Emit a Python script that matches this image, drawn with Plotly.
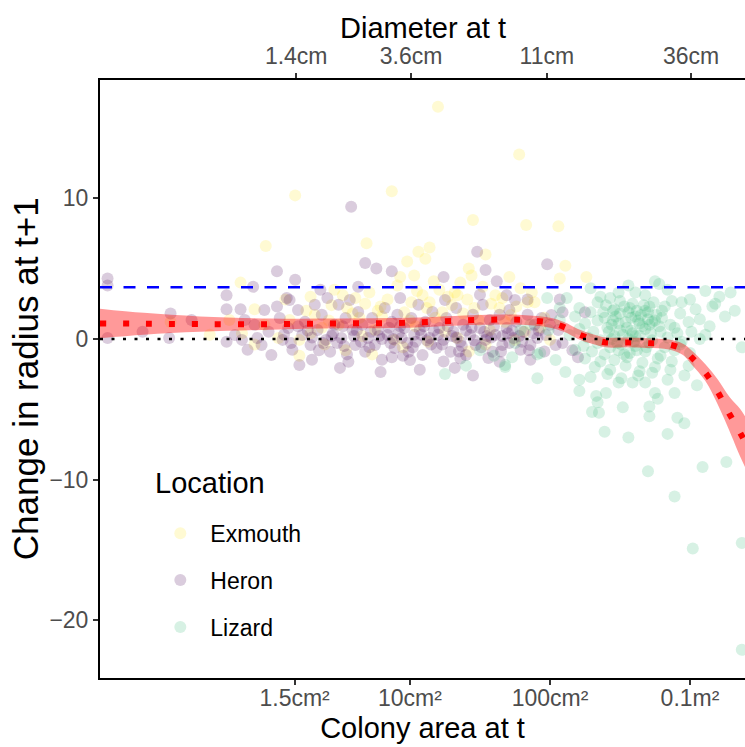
import plotly.graph_objects as go

# ---------------- data (x = log10 colony area in cm², y = change in radius) ----------------
exmouth_points = [
    (1.20, 16.5), (1.78, 13.1), (0.87, 10.5), (0.18, 10.2), (1.45, 8.45), (1.83, 8.1),
    (2.06, 8.0), (-0.03, 6.6), (0.69, 6.8), (1.14, 6.5), (1.06, 6.2), (1.54, 6.0),
    (0.98, 5.5), (1.11, 5.7), (1.42, 5.0), (2.11, 5.2), (2.07, 4.3), (2.26, 4.4),
    (1.71, 4.4), (1.03, 4.5), (0.93, 4.4), (1.36, 4.0), (1.44, 4.5), (-0.21, 4.0),
    (1.34, 3.1), (1.79, 3.6), (1.84, 2.6), (1.89, 2.6), (1.14, 2.6), (1.64, 2.2),
    (1.38, 1.8), (1.93, 0.8), (0.29, 3.0), (0.44, 2.4), (0.55, 2.2), (0.71, 3.3),
    (0.79, 2.3), (0.59, 1.8), (0.29, 0.4), (0.54, -0.8), (-0.11, 2.1), (-0.71, 1.2),
    (-0.43, 0.3), (-0.11, -0.4), (-0.20, 0.4), (0.14, 1.35), (0.21, -0.07), (0.32, 1.7),
    (0.39, -0.4), (0.49, 1.0), (0.64, 1.5), (0.75, 0.64), (0.84, 2.8), (0.89, -0.07),
    (0.96, 1.9), (1.04, 0.9), (1.09, 3.1), (1.18, 1.5), (1.25, 0.5), (1.30, 2.4),
    (1.49, 1.35), (1.57, 0.64), (1.68, 1.2), (1.75, -0.07), (0.73, -1.1), (0.11, 2.8),
    (0.21, -1.2), (0.46, 3.5), (0.61, 2.9), (0.91, 3.8), (1.01, 2.6), (1.21, 3.5),
    (1.41, 2.8), (1.61, 3.1), (1.96, 1.5), (2.00, -0.07), (0.06, 0.07), (0.37, 0.8),
    (0.66, 0.2), (1.13, -0.2), (1.34, 0.07), (1.54, -0.4), (1.82, 0.5), (-0.04, 1.0),
    (-0.29, 1.35),
    (1.05, 3.4), (1.17, 4.1), (1.27, 3.0), (1.52, 3.7), (1.66, 2.9), (1.87, 3.3),
    (0.80, 1.6), (1.00, 1.3), (1.23, 1.9), (1.46, 2.2), (0.42, 1.3), (0.68, 2.5),
    (1.72, 1.7), (0.26, 2.0), (0.95, -0.6), (1.42, -0.9),
    (0.52, 3.1), (0.77, 2.0), (1.12, 2.2), (1.32, 3.3), (1.58, 2.5), (1.76, 2.3),
]

heron_points = [
    (-1.16, 4.3), (-1.16, 3.8), (-1.16, 0.07), (-0.91, 0.5), (-0.72, 0.07), (-0.71, 1.8),
    (-0.56, 1.35), (-0.31, 3.1), (-0.31, -0.2), (-0.31, 2.1), (-0.21, 2.1), (-0.20, -0.07),
    (-0.12, 3.7), (0.05, 4.8), (0.18, 4.2), (0.12, 2.9), (0.05, 2.3), (0.36, 3.5),
    (0.41, 2.9), (0.58, 9.4), (0.63, 3.7), (0.68, 5.4), (0.76, 5.0), (0.87, 4.8),
    (0.87, -1.3), (1.00, -1.5), (1.48, 6.2), (1.54, 4.9), (1.24, 4.4), (1.98, 5.3),
    (1.62, 4.1), (1.69, 3.1), (1.84, 2.8), (2.07, 2.8), (2.01, 1.7), (1.36, -1.4),
    (1.56, -1.35), (1.24, -1.6), (1.71, -0.3), (1.96, -0.9), (1.45, -2.6), (2.09, 1.9),
    (2.25, 1.9), (2.20, -1.3), (2.09, -0.3), (2.16, -0.8),
    (-0.11, 1.0), (-0.06, -0.43), (-0.01, 0.5), (0.01, -1.14), (0.07, 1.49), (0.09, -0.07),
    (0.13, 0.78), (0.16, -0.78), (0.20, 2.06), (0.23, 0.28), (0.25, 1.21), (0.29, -0.43),
    (0.30, -1.49), (0.34, 0.64), (0.37, 1.71), (0.40, -0.07), (0.43, -0.92), (0.46, 1.0),
    (0.49, 2.42), (0.51, 0.07), (0.54, 1.49), (0.56, -1.63), (0.59, 0.64), (0.61, -0.43),
    (0.63, 1.92), (0.66, 1.0), (0.68, -0.92), (0.70, 0.07), (0.73, 1.49), (0.75, -0.43),
    (0.77, 0.64), (0.80, -1.49), (0.82, 2.2), (0.84, 0.28), (0.87, 1.21), (0.89, -0.64),
    (0.91, 1.71), (0.94, 0.07), (0.96, 0.78), (0.99, -0.92), (1.01, 1.49), (1.04, -0.21),
    (1.06, 2.42), (1.07, 0.64), (1.09, -1.14), (1.11, 1.21), (1.14, 0.07), (1.16, 1.92),
    (1.19, -0.64), (1.21, 0.78), (1.24, -0.07), (1.26, 1.49), (1.29, -0.92), (1.31, 0.5),
    (1.33, 2.2), (1.36, -0.21), (1.38, 1.0), (1.40, -1.14), (1.43, 0.28), (1.45, 1.71),
    (1.47, -0.43), (1.50, 0.78), (1.52, 2.42), (1.54, -0.07), (1.57, 1.35), (1.59, -0.92),
    (1.61, 0.28), (1.64, 1.71), (1.66, -0.43), (1.69, 0.78), (1.71, 2.06), (1.74, 0.07),
    (1.76, 1.21), (1.79, -0.78), (1.81, 0.5), (1.84, 1.71), (1.86, -0.43), (1.89, 1.0),
    (1.91, 0.07), (1.94, 1.49), (1.97, 0.28), (2.00, 1.0), (2.04, -0.43), (2.06, 0.64),
    (0.21, -1.85), (0.50, -2.06), (0.79, -2.35), (1.07, -2.2), (1.32, -2.06), (1.64, -1.63),
    (1.86, -1.49), (0.57, 2.77), (0.93, 2.91), (1.25, 2.77), (1.50, 3.13), (1.75, 2.77),
    (0.14, 2.77), (0.32, 2.42), (-0.04, 2.06), (-0.18, 1.35), (-0.25, 0.28), (-0.09, 0.07),
    (-0.16, -0.78),
    (0.10, 0.3), (0.20, 0.9), (0.30, 0.1), (0.38, -0.3), (0.45, 0.4), (0.52, 0.9),
    (0.60, 0.2), (0.65, -0.2), (0.72, 0.5), (0.80, 0.0), (0.85, 0.8), (0.92, 0.4),
    (0.98, -0.3), (1.03, 0.3), (1.10, 0.9), (1.15, -0.4), (1.20, 0.3), (1.27, 0.9),
    (1.33, 0.1), (1.40, 0.6), (1.46, -0.1), (1.53, 0.5), (1.60, 0.9), (1.66, 0.2),
    (1.73, 0.6), (1.80, -0.2), (1.88, 0.4), (0.55, -1.1), (0.95, -1.2), (1.35, -0.9),
    (0.15, -0.3), (0.27, 0.6), (0.35, -0.8), (0.44, 0.2), (0.53, -0.5), (0.62, 0.6),
    (0.71, -0.6), (0.78, 0.2), (0.86, -0.3), (0.93, 0.9), (1.02, -0.6), (1.08, 0.3),
    (1.17, 0.6), (1.23, -0.4), (1.30, 0.2), (1.37, -0.5), (1.44, 0.8), (1.51, -0.6),
    (1.58, 0.1), (1.65, -0.9), (1.70, 0.4), (1.78, 0.2), (1.85, -0.8), (1.92, 0.6),
    (0.48, -0.3), (0.88, 0.0), (1.12, -0.1), (1.55, 0.2),
]

lizard_points = [
    (3.37, -14.5), (3.37, -22.1), (3.02, -14.9), (2.89, -11.2), (2.70, -9.4), (3.09, -9.1),
    (3.26, -8.75), (2.56, -7.0), (2.39, -6.6), (2.84, -6.75), (2.96, -6.0), (2.91, -5.6),
    (2.71, -5.5), (2.52, -4.85), (2.30, -5.2), (2.35, -5.25), (1.91, -2.8), (2.21, -3.7),
    (2.33, -4.05), (2.71, -4.8), (2.77, -4.25), (2.75, -3.85), (2.89, -3.85), (2.40, -3.85),
    (2.34, -4.5), (2.49, -3.1), (2.59, -3.1), (2.68, -3.1), (3.05, -3.3), (2.75, 4.1),
    (2.78, 3.9), (3.16, 2.3), (3.29, 3.3), (2.94, 2.6), (2.36, 3.0), (2.49, 3.3),
    (2.61, 3.3), (3.37, -0.6), (1.98, 2.9), (2.07, 2.2), (1.75, -0.3), (1.91, -1.1),
    (1.68, -1.85), (1.73, -1.3), (1.50, -0.8), (2.12, 2.9), (1.68, -2.0), (1.93, -1.0),
    (2.29, 3.6), (2.43, 2.9), (2.56, 3.8), (2.68, 3.1), (2.84, 3.5), (3.00, 2.8),
    (3.11, 3.4), (3.21, 3.0),
    (2.21, 2.2), (2.34, 2.6), (2.46, 2.1), (2.59, 2.5), (2.71, 2.3), (2.87, 2.7),
    (3.04, 2.1), (3.18, 2.5), (3.32, 2.0),
    (2.18, 1.6), (2.29, 1.9), (2.39, 1.5), (2.50, 1.8), (2.61, 1.6), (2.70, 1.9),
    (2.80, 1.5), (2.93, 1.8), (3.07, 1.4), (3.25, 1.6),
    (2.25, 1.1), (2.34, 1.3), (2.44, 1.0), (2.54, 1.2), (2.64, 1.1), (2.75, 1.3),
    (2.86, 1.0), (2.99, 1.2), (3.14, 0.9),
    (2.21, 0.7), (2.31, 0.5), (2.41, 0.8), (2.50, 0.6), (2.59, 0.4), (2.68, 0.7),
    (2.79, 0.5), (2.89, 0.8), (3.01, 0.5), (3.11, 0.3),
    (2.27, 0.1), (2.36, -0.1), (2.46, 0.2), (2.56, 0.0), (2.64, 0.2), (2.73, -0.1),
    (2.84, 0.1), (2.94, -0.2), (3.07, 0.0),
    (2.24, -0.5), (2.34, -0.3), (2.43, -0.6), (2.51, -0.4), (2.61, -0.5), (2.71, -0.3),
    (2.82, -0.6), (2.93, -0.4),
    (2.30, -0.9), (2.39, -1.1), (2.49, -0.8), (2.57, -1.0), (2.68, -0.9), (2.79, -1.2),
    (2.89, -0.8), (3.00, -1.0),
    (2.25, -1.4), (2.36, -1.6), (2.46, -1.5), (2.55, -1.3), (2.66, -1.7), (2.77, -1.4),
    (2.87, -1.6),
    (2.32, -2.0), (2.43, -2.2), (2.54, -1.9), (2.64, -2.3), (2.75, -2.0), (2.86, -2.2),
    (2.99, -1.9),
    (2.29, -2.7), (2.41, -2.5), (2.51, -2.8), (2.63, -2.6), (2.73, -2.4), (2.84, -2.9),
    (2.96, -2.6),
    (2.40, 2.4), (2.45, 1.3), (2.52, 0.3), (2.58, 1.5), (2.62, 2.0), (2.66, 0.9),
    (2.70, 1.4), (2.74, 2.6), (2.50, 2.7), (2.55, 0.8), (2.60, -0.2), (2.65, 1.7),
    (2.78, 0.9), (2.42, 0.5), (2.48, -0.3), (2.72, 0.4), (2.57, 2.2), (2.69, -0.6),
    (2.80, 2.0), (2.38, 1.9),
    (2.07, 1.35), (2.14, 0.28), (1.99, 0.64), (2.18, -0.78), (2.04, -1.5), (2.11, -2.35),
    (2.21, -2.9), (1.86, 1.0), (1.79, 0.64), (1.60, -1.2), (1.40, -1.9), (1.25, -2.5),
    (2.47, 1.6), (2.53, 2.3), (2.58, 0.6), (2.63, 1.3), (2.67, 2.4), (2.76, 1.7),
    (2.44, 0.0), (2.53, -1.1), (2.62, -0.8), (2.71, 1.0), (2.82, 2.3), (2.91, 0.4),
    (2.49, 1.1), (2.56, 1.9), (2.61, 0.2), (2.68, 2.0), (2.73, 1.2), (2.45, 2.0),
]

# smoothed fit (log10 area, fit, lower, upper)
smooth_log = [-1.214, -0.9, -0.5, 0.0, 0.5, 1.0, 1.5, 1.8, 2.0, 2.1, 2.2, 2.3, 2.4,
              2.55, 2.7, 2.85, 2.95, 3.01, 3.11, 3.2, 3.28, 3.36, 3.393]
smooth_fit = [1.1, 1.08, 1.05, 1.05, 1.1, 1.15, 1.35, 1.35, 1.15, 0.85, 0.35, 0.0, -0.25,
              -0.25, -0.3, -0.4, -0.75, -1.3, -2.4, -3.8, -5.3, -6.7, -7.3]
smooth_lo = [0.05, 0.3, 0.5, 0.65, 0.75, 0.8, 1.0, 1.0, 0.8, 0.5, 0.0, -0.35, -0.6,
             -0.6, -0.65, -0.75, -1.15, -1.8, -3.0, -4.7, -6.5, -8.4, -9.1]
smooth_hi = [2.15, 1.85, 1.6, 1.45, 1.45, 1.5, 1.7, 1.7, 1.5, 1.2, 0.7, 0.35, 0.1,
             0.1, 0.05, -0.05, -0.35, -0.8, -1.8, -2.9, -4.1, -5.0, -5.5]

reference_line = 3.67   # blue dashed
zero_line = 0.0

area_ticks = [1.5, 10, 100, 1000]
area_labels = ["1.5cm²", "10cm²", "100cm²", "0.1m²"]
diam_ticks = [1.4, 3.6, 11, 36]
diam_labels = ["1.4cm", "3.6cm", "11cm", "36cm"]
y_ticks = [-20, -10, 0, 10]
y_labels = ["−20", "−10", "0", "10"]

x_range_log = [-1.214, 3.393]
y_range = [-24.1, 18.4]

colors = {"Exmouth": "#FDE725", "Heron": "#440154", "Lizard": "#35B779"}

FONT = "Liberation Sans, Arial, sans-serif"
TICK_SIZE = 23
TITLE_SIZE = 29
YTITLE_SIZE = 35

fig = go.Figure()

groups = [("Exmouth", exmouth_points), ("Heron", heron_points), ("Lizard", lizard_points)]
for name, pts in groups:
    fig.add_trace(go.Scatter(
        x=[10 ** p[0] for p in pts], y=[p[1] for p in pts],
        mode="markers", name=name, legendgroup=name,
        marker=dict(color=colors[name], size=12, opacity=0.2, line=dict(width=0)),
    ))

sx = [10 ** v for v in smooth_log]
fig.add_trace(go.Scatter(x=sx, y=smooth_hi, mode="lines", line=dict(width=0, shape="spline"),
                         showlegend=False, hoverinfo="skip"))
fig.add_trace(go.Scatter(x=sx, y=smooth_lo, mode="lines", line=dict(width=0, shape="spline"),
                         fill="tonexty", fillcolor="rgba(255,0,0,0.4)",
                         showlegend=False, hoverinfo="skip"))
fig.add_trace(go.Scatter(x=sx, y=smooth_fit, mode="lines",
                         line=dict(color="#FF0000", width=6, dash="6px,17px", shape="spline"),
                         showlegend=False, hoverinfo="skip"))

# invisible trace for the top axis
diam_area = [3.141592653589793 * (d / 2) ** 2 for d in diam_ticks]
fig.add_trace(go.Scatter(x=diam_area, y=[0] * len(diam_area), xaxis="x2", mode="markers",
                         marker=dict(opacity=0), showlegend=False, hoverinfo="skip"))

fig.add_shape(type="line", xref="paper", x0=0, x1=1, yref="y", y0=zero_line, y1=zero_line,
              line=dict(color="black", width=2.5, dash="3px,8.5px"), layer="above")
fig.add_shape(type="line", xref="paper", x0=0, x1=1, yref="y", y0=reference_line, y1=reference_line,
              line=dict(color="#0000FF", width=2.5, dash="12px,11.5px"), layer="above")

axis_common = dict(showgrid=False, zeroline=False, showline=True, linecolor="black", linewidth=2,
                   ticks="outside", ticklen=5, tickwidth=1.5, tickcolor="#333333",
                   tickfont=dict(family=FONT, size=TICK_SIZE, color="#4D4D4D"))

# titles placed as annotations for precise positioning
fig.add_annotation(text="Diameter at t", xref="paper", yref="paper", x=0.5, y=1.087,
                   xanchor="center", yanchor="middle", showarrow=False,
                   font=dict(family=FONT, size=TITLE_SIZE, color="black"))
fig.add_annotation(text="Change in radius at t+1", xref="paper", yref="paper",
                   x=-0.116, y=0.5, xanchor="center", yanchor="middle", textangle=-90,
                   showarrow=False, font=dict(family=FONT, size=YTITLE_SIZE, color="black"))
fig.add_annotation(text="Location", xref="paper", yref="paper", x=0.082, y=0.326,
                   xanchor="left", yanchor="middle", showarrow=False,
                   font=dict(family=FONT, size=TITLE_SIZE, color="black"))

fig.update_layout(
    width=745, height=747,
    margin=dict(l=100, r=0, t=80, b=69),
    paper_bgcolor="white", plot_bgcolor="white",
    font=dict(family=FONT, color="black"),
    xaxis=dict(type="log", range=x_range_log, tickvals=area_ticks, ticktext=area_labels,
               ticklabelstandoff=-7,
               title=dict(text="Colony area at t",
                          font=dict(family=FONT, size=TITLE_SIZE, color="black"), standoff=8),
               **axis_common),
    xaxis2=dict(type="log", range=x_range_log, overlaying="x", side="top", anchor="y",
                tickvals=diam_area, ticktext=diam_labels,
                **axis_common),
    yaxis=dict(range=y_range, tickvals=y_ticks, ticktext=y_labels, **axis_common),
    legend=dict(x=0.078, y=0.278, xanchor="left", yanchor="top", bgcolor="rgba(0,0,0,0)",
                font=dict(family=FONT, size=TICK_SIZE, color="black"),
                tracegroupgap=14, itemwidth=50, itemsizing="constant"),
)

fig.write_html("out.html")
